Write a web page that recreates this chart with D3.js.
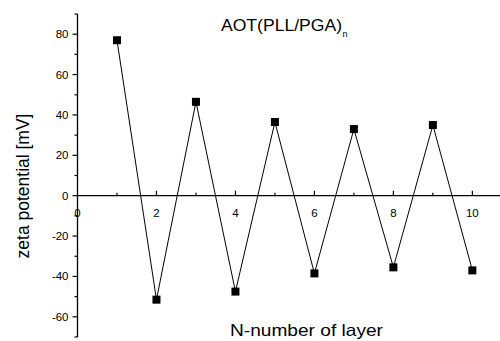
<!DOCTYPE html>
<html><head><meta charset="utf-8">
<script src="https://cdn.jsdelivr.net/npm/d3@7"></script>
<style>body{margin:0;background:#fff}svg{display:block}text{font-family:"Liberation Sans",Arial,sans-serif}</style>
</head><body><svg id="c" width="500" height="341"></svg>
<script>
const layers = [1,2,3,4,5,6,7,8,9,10];
const zeta = [77,-51.5,46.5,-47.5,36.5,-38.5,33,-35.5,35,-37];
const xTicks = [0,2,4,6,8,10];
const yTicks = [-60,-40,-20,0,20,40,60,80];

const svg = d3.select("#c");
const x = d3.scaleLinear().domain([0,10.7]).range([77.5,500]);
const y = d3.scaleLinear().domain([-70,90]).range([337,14]);

// y axis
const yAxis = svg.append("g").attr("transform","translate(77.5,0)");
yAxis.append("line").attr("y1",y(90)).attr("y2",y(-70)).attr("stroke","#000").attr("stroke-width",1.3);
yAxis.selectAll(".ymin").data(d3.range(-70,91,10)).join("line")
  .attr("x1",0).attr("x2",d=>d%20===0?-5:-3)
  .attr("y1",d=>y(d)).attr("y2",d=>y(d)).attr("stroke","#000").attr("stroke-width",1.2);
yAxis.selectAll(".yl").data(yTicks).join("text")
  .attr("x",-9).attr("y",d=>y(d)).attr("dy","0.35em").attr("text-anchor","end")
  .attr("font-size",11.5).text(d=>d);

// x axis
const y0 = y(0);
const xAxis = svg.append("g").attr("transform",`translate(0,${y0})`);
xAxis.append("line").attr("x1",x(0)).attr("x2",500).attr("stroke","#000").attr("stroke-width",1.3);
xAxis.selectAll(".xmin").data(d3.range(1,11,1)).join("line")
  .attr("x1",d=>x(d)).attr("x2",d=>x(d)).attr("y1",0).attr("y2",d=>d%2===0?-5:-3)
  .attr("stroke","#000").attr("stroke-width",1.2);
xAxis.selectAll(".xl").data(xTicks).join("text")
  .attr("x",d=>x(d)).attr("y",21).attr("text-anchor","middle")
  .attr("font-size",11.5).text(d=>d);

// line + markers
const line = d3.line().x((d,i)=>x(layers[i])).y(d=>y(d));
svg.append("path").attr("d",line(zeta)).attr("fill","none").attr("stroke","#000").attr("stroke-width",1);
svg.selectAll(".pt").data(zeta).join("rect")
  .attr("x",(d,i)=>x(layers[i])-4).attr("y",d=>y(d)-4).attr("width",8).attr("height",8).attr("fill","#000");

// labels
svg.append("text").attr("x",230).attr("y",336).attr("font-size",16.5)
  .attr("textLength",153).attr("lengthAdjust","spacingAndGlyphs").text("N-number of layer");
svg.append("text").attr("transform","translate(29,186) rotate(-90)").attr("text-anchor","middle")
  .attr("font-size",17.5).text("zeta potential [mV]");
svg.append("text").attr("x",221).attr("y",31).attr("font-size",16)
  .attr("textLength",121).attr("lengthAdjust","spacingAndGlyphs").text("AOT(PLL/PGA)");
svg.append("text").attr("x",342.5).attr("y",37).attr("font-size",9).text("n");
</script></body></html>
